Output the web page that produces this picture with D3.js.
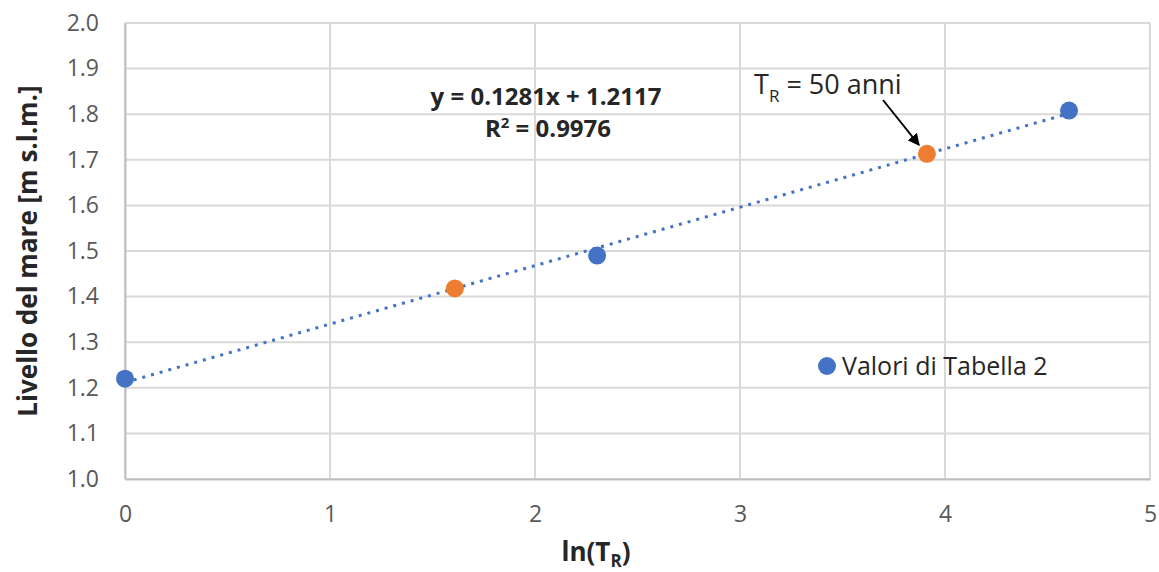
<!DOCTYPE html>
<html>
<head>
<meta charset="utf-8">
<script src="https://cdn.jsdelivr.net/npm/d3@7"></script>
<style>
  body { margin: 0; background: #fff; }
  svg text { font-family: "Open Sans", "Noto Sans", sans-serif; }
</style>
</head>
<body>
<div id="chart"></div>
<script>
// data
const blueX = [0, 2.303, 4.605];
const blueY = [1.22, 1.49, 1.808];
const orangeX = [1.609, 3.912];
const orangeY = [1.418, 1.713];
const trendSlope = 0.1281;
const trendIntercept = 1.2117;
const trendRange = [0, 4.605];
const xTicks = [0, 1, 2, 3, 4, 5];
const yTicks = [1.0, 1.1, 1.2, 1.3, 1.4, 1.5, 1.6, 1.7, 1.8, 1.9, 2.0];

const BLUE = "#4472C4";
const ORANGE = "#ED7D31";
const GRID = "#d9d9d9";
const LABEL = "#595959";

let width = 1159, height = 572;
let margin = { left: 125, right: 9, top: 23, bottom: 93 };

let svg = d3.select("#chart")
  .append("svg")
  .attr("width", width)
  .attr("height", height);

let x = d3.scaleLinear().domain([0, 5]).range([margin.left, width - margin.right]);
let y = d3.scaleLinear().domain([1.0, 2.0]).range([height - margin.bottom, margin.top]);

// grid
svg.append("g")
  .selectAll("line")
  .data(yTicks)
  .join("line")
  .attr("x1", x(0)).attr("x2", x(5))
  .attr("y1", d => y(d)).attr("y2", d => y(d))
  .attr("stroke", GRID).attr("stroke-width", 2);

svg.append("g")
  .selectAll("line")
  .data(xTicks)
  .join("line")
  .attr("y1", y(1)).attr("y2", y(2))
  .attr("x1", d => x(d)).attr("x2", d => x(d))
  .attr("stroke", GRID).attr("stroke-width", 2);

// axes (labels only)
let yAxis = svg.append("g")
  .attr("transform", `translate(${x(0)},0)`)
  .call(d3.axisLeft(y).tickValues(yTicks).tickFormat(d3.format(".1f")).tickSize(0).tickPadding(26));
yAxis.select(".domain").attr("stroke", "#bfbfbf").attr("stroke-width", 2);
yAxis.selectAll("text").attr("fill", LABEL).attr("font-size", 23).attr("font-family", "Open Sans");

let xAxis = svg.append("g")
  .attr("transform", `translate(0,${y(1)})`)
  .call(d3.axisBottom(x).tickValues(xTicks).tickFormat(d3.format("d")).tickSize(0).tickPadding(27));
xAxis.select(".domain").attr("stroke", "#bfbfbf").attr("stroke-width", 2);
xAxis.selectAll("text").attr("fill", LABEL).attr("font-size", 23).attr("font-family", "Open Sans");

// trendline
svg.append("line")
  .attr("x1", x(trendRange[0])).attr("y1", y(trendSlope * trendRange[0] + trendIntercept))
  .attr("x2", x(trendRange[1])).attr("y2", y(trendSlope * trendRange[1] + trendIntercept))
  .attr("stroke", BLUE)
  .attr("stroke-width", 3)
  .attr("stroke-dasharray", "3 6")
  .attr("stroke-linecap", "butt");

// points
svg.append("g")
  .selectAll("circle")
  .data(orangeX.map((d, i) => [d, orangeY[i]]))
  .join("circle")
  .attr("cx", d => x(d[0])).attr("cy", d => y(d[1]))
  .attr("r", 9).attr("fill", ORANGE);

svg.append("g")
  .selectAll("circle")
  .data(blueX.map((d, i) => [d, blueY[i]]))
  .join("circle")
  .attr("cx", d => x(d[0])).attr("cy", d => y(d[1]))
  .attr("r", 9).attr("fill", BLUE);

// trend equation
let eq = svg.append("text")
  .attr("x", 546).attr("y", 105)
  .attr("text-anchor", "middle")
  .attr("font-size", 24).attr("font-weight", "bold").attr("fill", "#262626");
eq.text("y = 0.1281x + 1.2117");

let r2 = svg.append("text")
  .attr("x", 548).attr("y", 137)
  .attr("text-anchor", "middle")
  .attr("font-size", 24).attr("font-weight", "bold").attr("fill", "#262626");
r2.append("tspan").text("R");
r2.append("tspan").attr("dy", -9).attr("font-size", 15).text("2");
r2.append("tspan").attr("dy", 9).text(" = 0.9976");

// annotation
let ann = svg.append("text")
  .attr("x", 754).attr("y", 94)
  .attr("font-size", 27).attr("fill", "#262626");
ann.append("tspan").text("T");
ann.append("tspan").attr("dy", 8).attr("font-size", 17).text("R");
ann.append("tspan").attr("dy", -8).text(" = 50 anni");

svg.append("defs").append("marker")
  .attr("id", "arrow")
  .attr("viewBox", "0 0 10 10")
  .attr("refX", 9).attr("refY", 5)
  .attr("markerWidth", 6).attr("markerHeight", 6)
  .attr("orient", "auto")
  .append("path").attr("d", "M0,0 L10,5 L0,10 Z").attr("fill", "#000");

svg.append("line")
  .attr("x1", 883).attr("y1", 100)
  .attr("x2", 919).attr("y2", 145)
  .attr("stroke", "#000").attr("stroke-width", 2)
  .attr("marker-end", "url(#arrow)");

// legend
svg.append("circle").attr("cx", 827).attr("cy", 366).attr("r", 9).attr("fill", BLUE);
svg.append("text")
  .attr("x", 842).attr("y", 375)
  .attr("font-size", 25).attr("fill", "#262626")
  .text("Valori di Tabella 2");

// axis titles
let xt = svg.append("text")
  .attr("x", 596).attr("y", 561)
  .attr("text-anchor", "middle")
  .attr("font-size", 26).attr("font-weight", "bold").attr("fill", "#262626");
xt.append("tspan").text("ln(T");
xt.append("tspan").attr("dy", 6).attr("font-size", 17).text("R");
xt.append("tspan").attr("dy", -6).text(")");

svg.append("text")
  .attr("transform", `translate(37,${y(1.5)}) rotate(-90)`)
  .attr("text-anchor", "middle")
  .attr("font-size", 26).attr("font-weight", "bold").attr("fill", "#262626")
  .text("Livello del mare [m s.l.m.]");
</script>
</body>
</html>
